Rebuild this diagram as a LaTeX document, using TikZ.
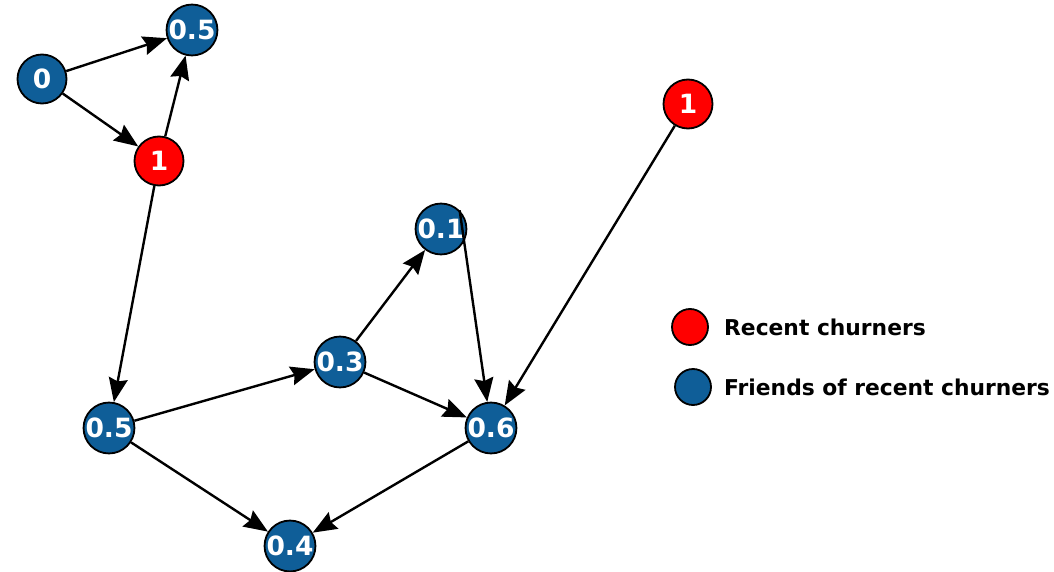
\documentclass[tikz,border=0pt]{standalone}
\usepackage{fontspec}
\setmainfont{DejaVu Sans}
\usetikzlibrary{arrows.meta}
\definecolor{fblue}{HTML}{0F5E98}
\definecolor{cred}{HTML}{FF0000}
\begin{document}
\begin{tikzpicture}[x=1pt,y=-1pt,
  vtx/.style={circle,draw=black,line width=1.8pt,minimum size=49pt,inner sep=0pt,
    text=white,font=\fontsize{26.5}{28}\selectfont\bfseries},
  bluev/.style={vtx,fill=fblue},
  redv/.style={vtx,fill=cred},
  leg/.style={circle,draw=black,line width=1.8pt,minimum size=36pt,inner sep=0pt},
  legtext/.style={anchor=west,font=\fontsize{21.8}{24}\selectfont\bfseries,inner sep=0pt},
  edge/.style={draw=black,line width=2.4pt,-{Stealth[length=24pt,width=19pt,inset=3pt]}}]
\useasboundingbox (0,0) rectangle (1054,572);
\node[bluev] (n0) at (42,79) {0};
\node[bluev] (na) at (192,30) {0.5};
\node[redv] (r1) at (159,161) {1};
\node[redv] (r2) at (688,104) {1};
\node[bluev] (n01) at (441,229) {0.1};
\node[bluev] (n03) at (340,362) {0.3};
\node[bluev] (n05) at (109,428) {0.5};
\node[bluev] (n06) at (491,428) {0.6};
\node[bluev] (n04) at (290,546) {0.4};
\draw[edge] (n0) -- (na);
\draw[edge] (n0) -- (r1);
\draw[edge] (r1) -- (na);
\draw[edge] (r1) -- (n05);
\draw[edge] (n05) -- (n03);
\draw[edge] (n05) -- (n04);
\draw[edge] (n03) -- (n01);
\draw[edge] (n01.north east) -- (n06);
\draw[edge] (n03) -- (n06);
\draw[edge] (r2) -- (n06);
\draw[edge] (n06) -- (n04);
\node[leg,fill=cred] (lr) at (690,327) {};
\node[leg,fill=fblue] (lb) at (693,387) {};
\node[legtext] (tr) at (724,327) {Recent churners};
\node[legtext] (tb) at (724,387) {Friends of recent churners};
\end{tikzpicture}
\end{document}
